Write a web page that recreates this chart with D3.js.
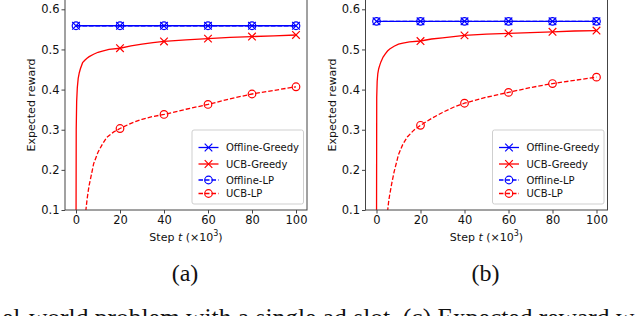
<!DOCTYPE html>
<html>
<head>
<meta charset="utf-8">
<script src="https://cdn.jsdelivr.net/npm/d3@7"></script>
<style>
  body { margin: 0; background: #fff; }
  svg { display: block; }
  text { font-family: "DejaVu Sans", sans-serif; }
</style>
</head>
<body>
<svg width="640" height="316"></svg>
<script>
// ---- data ----
var stepTicks = [0, 20, 40, 60, 80, 100];
var rewardTicks = [0.1, 0.2, 0.3, 0.4, 0.5, 0.6];
var seriesNames = ["Offline-Greedy", "UCB-Greedy", "Offline-LP", "UCB-LP"];
var panelLabels = ["(a)", "(b)"];

// marker steps (x10^3)
var markerSteps = [0, 20, 40, 60, 80, 100];
var offlineGreedyA = [0.559, 0.559, 0.559, 0.559, 0.559, 0.559];
var offlineLpA     = [0.559, 0.559, 0.559, 0.559, 0.559, 0.559];
var offlineGreedyB = [0.570, 0.570, 0.570, 0.570, 0.570, 0.570];
var offlineLpB     = [0.570, 0.570, 0.570, 0.570, 0.570, 0.570];

// UCB-Greedy curves
var greedySteps = [0, 0.1, 0.3, 0.6, 1, 1.5, 2, 3, 4, 5, 6, 8, 10, 12, 15, 20, 25, 30, 35, 40, 50, 60, 70, 80, 90, 100];
var ucbGreedyA = [0.00, 0.30, 0.37, 0.405, 0.428, 0.442, 0.452, 0.467, 0.473, 0.478, 0.482, 0.488, 0.493, 0.496, 0.500, 0.503, 0.509, 0.513, 0.517, 0.520, 0.524, 0.527, 0.530, 0.532, 0.534, 0.536];
var ucbGreedyB = [0.00, 0.38, 0.42, 0.440, 0.452, 0.461, 0.469, 0.481, 0.489, 0.496, 0.501, 0.508, 0.513, 0.516, 0.519, 0.521, 0.526, 0.529, 0.532, 0.535, 0.538, 0.540, 0.542, 0.544, 0.546, 0.547];

// UCB-LP curves
var lpSteps = [3, 4, 4.5, 5, 5.5, 6, 7, 8, 10, 12, 14, 17, 20, 25, 30, 35, 40, 50, 60, 70, 80, 90, 100];
var ucbLpA = [0.00, 0.07, 0.10, 0.125, 0.145, 0.162, 0.188, 0.215, 0.244, 0.264, 0.281, 0.294, 0.303, 0.316, 0.326, 0.333, 0.338, 0.351, 0.363, 0.377, 0.389, 0.398, 0.407];
var ucbLpB = [-0.05, 0.04, 0.07, 0.095, 0.12, 0.138, 0.168, 0.195, 0.238, 0.264, 0.282, 0.299, 0.311, 0.328, 0.343, 0.356, 0.366, 0.381, 0.393, 0.405, 0.415, 0.423, 0.431];

var captionText = "el-world problem with a single ad slot. (c) Expected reward w";

var BLUE = "#0000ff", RED = "#ff0000";

var svg = d3.select("svg");

var panels = [
  { off: 0,     og: offlineGreedyA, ol: offlineLpA, ug: ucbGreedyA, ul: ucbLpA, label: panelLabels[0] },
  { off: 300.5, og: offlineGreedyB, ol: offlineLpB, ug: ucbGreedyB, ul: ucbLpB, label: panelLabels[1] }
];

var axTop = -2, axBottom = 210;

function zip(xs, ys) { return xs.map(function(x, i) { return [x, ys[i]]; }); }

function drawX(g, cx, cy, s, color) {
  g.append("path")
    .attr("d", "M" + (cx - s) + "," + (cy - s) + "L" + (cx + s) + "," + (cy + s) +
               "M" + (cx - s) + "," + (cy + s) + "L" + (cx + s) + "," + (cy - s))
    .attr("stroke", color).attr("stroke-width", 1.2).attr("fill", "none");
}
function drawO(g, cx, cy, r, color) {
  g.append("circle").attr("cx", cx).attr("cy", cy).attr("r", r)
    .attr("stroke", color).attr("stroke-width", 1.2).attr("fill", "none");
}

panels.forEach(function(p, pi) {
  var x = d3.scaleLinear().domain([-5, 105]).range([65 + p.off, 307 + p.off]);
  var y = d3.scaleLinear().domain([0.1, 0.6]).range([210, 9.3]);
  var left = x(-5), right = x(105);

  var g = svg.append("g");
  var clipId = "clip" + pi;
  g.append("clipPath").attr("id", clipId)
    .append("rect").attr("x", left).attr("y", axTop)
    .attr("width", right - left).attr("height", axBottom - axTop);

  var plot = g.append("g").attr("clip-path", "url(#" + clipId + ")");
  var line = d3.line().x(function(d) { return x(d[0]); }).y(function(d) { return y(d[1]); });

  // offline lines
  plot.append("path").datum(zip(markerSteps, p.og)).attr("d", line)
    .attr("fill", "none").attr("stroke", BLUE).attr("stroke-width", 1.3);
  plot.append("path").datum(zip(markerSteps, p.ol)).attr("d", line)
    .attr("fill", "none").attr("stroke", BLUE).attr("stroke-width", 1.3).attr("stroke-dasharray", "4.5,2");
  // UCB lines
  plot.append("path").datum(zip(greedySteps, p.ug)).attr("d", line)
    .attr("fill", "none").attr("stroke", RED).attr("stroke-width", 1.3);
  plot.append("path").datum(zip(lpSteps, p.ul)).attr("d", line)
    .attr("fill", "none").attr("stroke", RED).attr("stroke-width", 1.3).attr("stroke-dasharray", "4.5,2");

  // markers
  markerSteps.forEach(function(s, i) {
    drawX(plot, x(s), y(p.og[i]), 3.8, BLUE);
    drawO(plot, x(s), y(p.ol[i]), 3.8, BLUE);
    var gi = greedySteps.indexOf(s);
    if (gi >= 0 && p.ug[gi] > 0.1) drawX(plot, x(s), y(p.ug[gi]), 3.8, RED);
    var li = lpSteps.indexOf(s);
    if (li >= 0 && p.ul[li] > 0.1) drawO(plot, x(s), y(p.ul[li]), 3.8, RED);
  });

  // spines
  g.append("rect").attr("x", left).attr("y", axTop)
    .attr("width", right - left).attr("height", axBottom - axTop)
    .attr("fill", "none").attr("stroke", "#444").attr("stroke-width", 1);

  // axes
  var xa = g.append("g").attr("transform", "translate(0," + axBottom + ")")
    .call(d3.axisBottom(x).tickValues(stepTicks).tickSize(3.5).tickPadding(2).tickFormat(d3.format("d")));
  var ya = g.append("g").attr("transform", "translate(" + left + ",0)")
    .call(d3.axisLeft(y).tickValues(rewardTicks).tickSize(3.5).tickPadding(2).tickFormat(d3.format(".1f")));
  [xa, ya].forEach(function(a) {
    a.select(".domain").remove();
    a.selectAll("line").attr("stroke", "#444");
    a.selectAll("text").attr("fill", "#111").style("font-family", "DejaVu Sans").style("font-size", "11.5px");
  });

  // axis labels
  var xl = g.append("text").attr("x", (left + right) / 2).attr("y", 240.5)
    .attr("text-anchor", "middle").attr("fill", "#111").style("font-size", "11px");
  xl.append("tspan").text("Step ");
  xl.append("tspan").attr("font-style", "italic").text("t");
  xl.append("tspan").text(" (×10");
  xl.append("tspan").attr("dy", -4.5).style("font-size", "8px").text("3");
  xl.append("tspan").attr("dy", 4.5).text(")");

  g.append("text")
    .attr("transform", "translate(" + (left - 30) + "," + ((axTop + axBottom) / 2 + 1) + ") rotate(-90)")
    .attr("text-anchor", "middle").attr("fill", "#111").style("font-size", "11px")
    .text("Expected reward");

  // legend
  var lgRight = right - 3.5, lgW = 111.5, lgX = lgRight - lgW, lgY = 130, lgH = 74;
  var lg = g.append("g");
  lg.append("rect").attr("x", lgX).attr("y", lgY).attr("width", lgW).attr("height", lgH)
    .attr("rx", 2).attr("fill", "#fff").attr("fill-opacity", 0.85)
    .attr("stroke", "#cfcfcf").attr("stroke-width", 1);
  var rowY = [147.5, 164, 180, 193.5];
  var styles = [
    { c: BLUE, dash: null, m: "x" },
    { c: RED,  dash: null, m: "x" },
    { c: BLUE, dash: "4.5,2", m: "o" },
    { c: RED,  dash: "4.5,2", m: "o" }
  ];
  seriesNames.forEach(function(name, i) {
    var st = styles[i], ry = rowY[i];
    var hl = lg.append("line").attr("x1", lgX + 6.5).attr("x2", lgX + 26.5).attr("y1", ry).attr("y2", ry)
      .attr("stroke", st.c).attr("stroke-width", 1.3);
    if (st.dash) hl.attr("stroke-dasharray", st.dash);
    if (st.m === "x") drawX(lg, lgX + 16.5, ry, 3.8, st.c);
    else drawO(lg, lgX + 16.5, ry, 3.8, st.c);
    lg.append("text").attr("x", lgX + 34).attr("y", ry + 3.7)
      .attr("fill", "#111").style("font-size", "10px").text(name);
  });

  // panel label
  svg.append("text").attr("x", 185 + p.off).attr("y", 281)
    .attr("text-anchor", "middle").style("font-family", "Liberation Serif").style("font-size", "24px")
    .attr("fill", "#111").text(p.label);
});

svg.append("text").attr("x", 2).attr("y", 325.5)
  .style("font-family", "Liberation Serif").style("font-size", "25.5px")
  .attr("fill", "#111").text(captionText);
</script>
</body>
</html>
